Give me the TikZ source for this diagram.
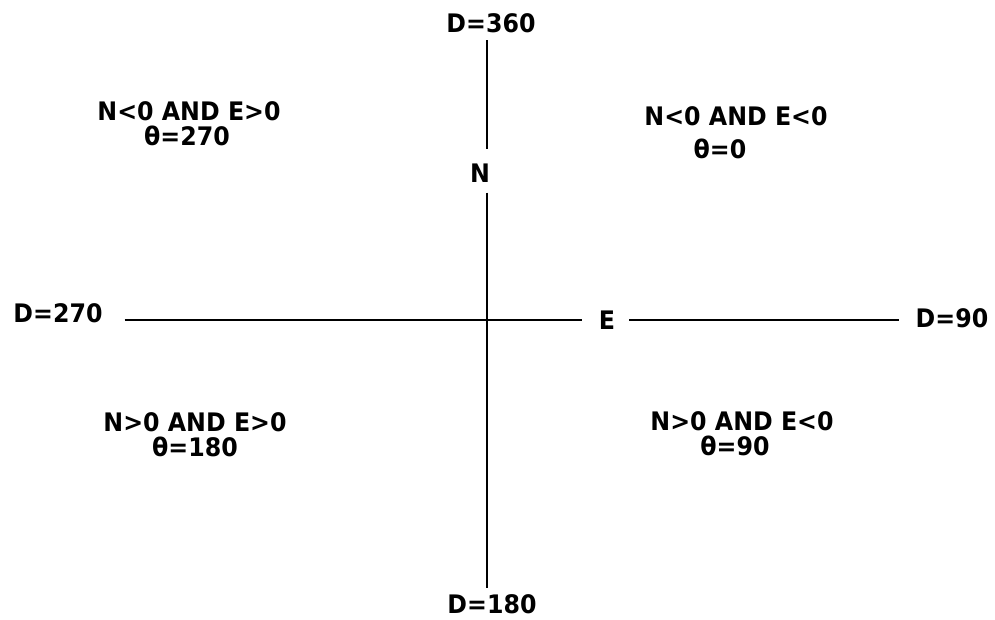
\documentclass[tikz,border=0pt]{standalone}
\usepackage{fontspec}
\setmainfont{DejaVu Sans}[FakeStretch=0.93]
\begin{document}
\begin{tikzpicture}[x=1pt,y=-1pt,
  lbl/.style={font=\bfseries\fontsize{25.5}{27}\selectfont, inner sep=0pt, text height=18.6pt, text depth=0pt},
  axis/.style={line width=1.9pt, black}]
\path[use as bounding box, fill=white] (0,0) rectangle (995,619);
\coordinate (O) at (487,320);
% axis end labels
\node[lbl] (d360) at (491,23.5) {D=360};
\node[lbl] (d180) at (492,604) {D=180};
\node[lbl] (d270) at (58,313) {D=270};
\node[lbl] (d90) at (952,318) {D=90};
\node[lbl] (N) at (480,173) {N};
\node[lbl] (E) at (607,320) {E};
% quadrant labels
\node[lbl] (nw1) at (189,111) {N<0 AND E>0};
\node[lbl] (nw2) at (187,136) {θ=270};
\node[lbl] (ne1) at (736,116) {N<0 AND E<0};
\node[lbl] (ne2) at (720,149) {θ=0};
\node[lbl] (sw1) at (195,422) {N>0 AND E>0};
\node[lbl] (sw2) at (195,447.5) {θ=180};
\node[lbl] (se1) at (742,421.5) {N>0 AND E<0};
\node[lbl] (se2) at (735,446.5) {θ=90};
% axes
\draw[axis, shorten <=7pt, shorten >=15pt] (d360.south -| O) -- (N.north -| O);
\draw[axis, shorten <=10pt, shorten >=7pt] (N.south -| O) -- (d180.north -| O);
\draw[axis, shorten <=22pt, shorten >=17pt] (d270.east |- O) -- (E.west |- O);
\draw[axis, shorten <=14pt, shorten >=17pt] (E.east |- O) -- (d90.west |- O);
\end{tikzpicture}
\end{document}
